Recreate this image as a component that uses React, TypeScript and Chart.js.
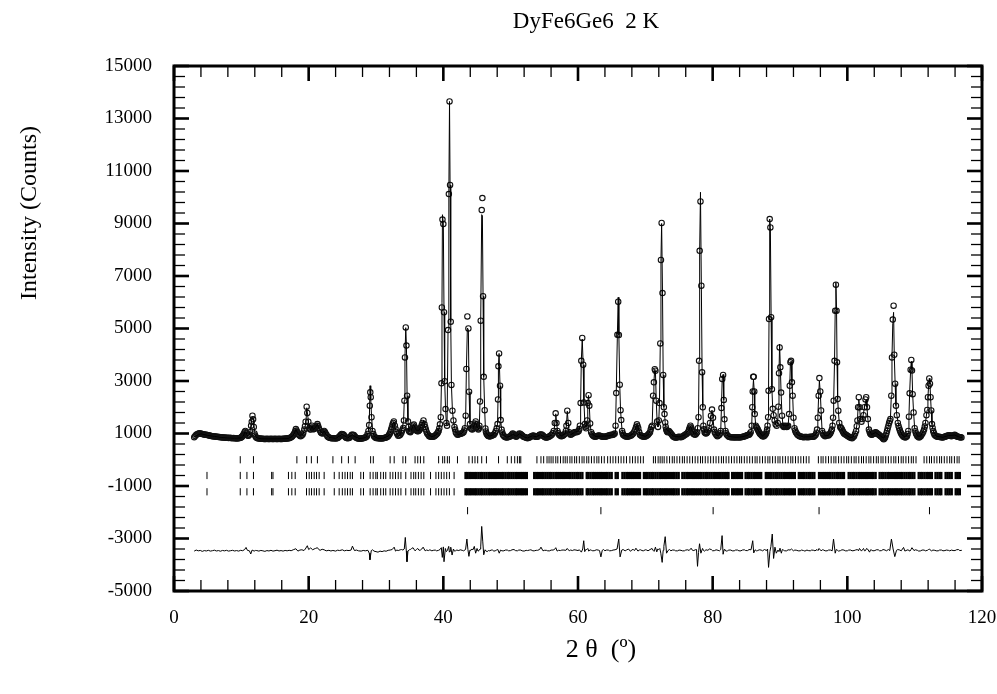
import { useEffect, useRef } from 'react';
import { Chart, registerables } from 'chart.js';

Chart.register(...registerables);

const FONT = "'Liberation Serif', 'Times New Roman', Times, serif";

const TITLE = 'DyFe6Ge6  2 K';
const X_TITLE = '2 θ  (º)';
const Y_TITLE = 'Intensity (Counts)';

// Observed intensities [2θ, counts]
const observed: [number, number][] = [
[3.0,860],[3.15,905],[3.3,950],[3.45,975],[3.6,990],[3.75,1005],[3.9,1000],[4.05,995],[4.2,980],[4.35,970],[4.5,960],[4.65,955],[4.8,950],[4.95,940],[5.1,930],[5.25,920],[5.4,910],[5.55,905],[5.7,900],[5.85,895],[6.0,890],[6.15,885],[6.3,880],[6.45,875],[6.6,870],[6.75,865],[6.9,860],[7.05,855],[7.2,850],[7.35,845],[7.5,850],[7.65,840],[7.8,840],[7.95,835],[8.1,830],[8.25,835],[8.4,830],[8.55,825],[8.7,820],[8.85,825],[9.0,820],[9.15,815],[9.3,810],[9.45,815],[9.6,820],[9.75,830],[9.9,840],[10.0,860],[10.1,880],[10.2,910],[10.3,950],[10.4,1000],[10.5,1060],[10.6,1100],[10.75,1020],[10.9,930],[11.0,915],[11.1,920],[11.2,960],[11.3,1050],[11.45,1300],[11.55,1450],[11.65,1680],[11.75,1540],[11.85,1250],[11.95,1000],[12.05,920],[12.15,870],[12.3,830],[12.45,820],[12.6,810],[12.75,805],[12.9,800],[13.05,800],[13.2,800],[13.35,795],[13.5,790],[13.65,795],[13.8,800],[13.95,795],[14.1,790],[14.25,795],[14.4,800],[14.55,795],[14.7,790],[14.85,795],[15.0,800],[15.15,795],[15.3,790],[15.45,795],[15.6,800],[15.75,795],[15.9,790],[16.05,795],[16.2,800],[16.35,800],[16.5,800],[16.65,805],[16.8,810],[16.95,815],[17.1,820],[17.25,840],[17.4,860],[17.55,890],[17.7,930],[17.8,970],[17.9,1020],[18.0,1090],[18.1,1170],[18.2,1110],[18.3,1060],[18.4,1000],[18.5,960],[18.65,920],[18.8,900],[18.95,920],[19.1,960],[19.2,1030],[19.35,1150],[19.45,1280],[19.55,1450],[19.7,2020],[19.8,1780],[19.95,1450],[20.1,1200],[20.2,1160],[20.3,1150],[20.4,1220],[20.5,1300],[20.6,1230],[20.7,1160],[20.8,1170],[20.9,1200],[21.0,1220],[21.1,1250],[21.2,1300],[21.3,1360],[21.4,1290],[21.5,1210],[21.65,1120],[21.8,1050],[21.9,1020],[22.05,1000],[22.15,1040],[22.3,1100],[22.4,1060],[22.5,1010],[22.65,950],[22.8,890],[22.95,860],[23.1,840],[23.25,830],[23.4,820],[23.55,815],[23.7,820],[23.85,815],[24.0,810],[24.15,815],[24.3,830],[24.45,860],[24.6,900],[24.75,940],[24.9,980],[25.05,970],[25.2,950],[25.35,900],[25.5,850],[25.65,830],[25.8,820],[25.95,830],[26.1,850],[26.25,900],[26.4,950],[26.55,955],[26.7,940],[26.85,900],[27.0,850],[27.15,825],[27.3,810],[27.45,805],[27.6,800],[27.75,805],[27.9,810],[28.05,820],[28.2,830],[28.35,845],[28.5,860],[28.65,900],[28.75,980],[28.88,1100],[28.98,1320],[29.08,2060],[29.15,2570],[29.22,2380],[29.33,1620],[29.48,1100],[29.6,980],[29.7,900],[29.85,860],[30.0,830],[30.15,825],[30.3,820],[30.45,815],[30.6,810],[30.75,815],[30.9,810],[31.05,820],[31.2,830],[31.35,840],[31.5,850],[31.65,870],[31.8,900],[31.95,950],[32.05,1000],[32.15,1070],[32.25,1150],[32.35,1240],[32.45,1340],[32.55,1400],[32.65,1460],[32.8,1300],[32.9,1180],[33.0,1060],[33.15,980],[33.3,910],[33.45,920],[33.6,950],[33.75,1020],[33.85,1100],[33.95,1150],[34.05,1210],[34.15,1500],[34.22,2250],[34.3,3900],[34.42,5040],[34.52,4350],[34.62,2440],[34.75,1460],[34.82,1250],[34.9,1100],[35.0,1070],[35.1,1050],[35.2,1100],[35.3,1150],[35.4,1220],[35.5,1300],[35.62,1340],[35.75,1250],[35.82,1200],[35.9,1150],[36.0,1120],[36.1,1100],[36.2,1090],[36.3,1100],[36.4,1120],[36.5,1150],[36.6,1200],[36.7,1250],[36.8,1320],[36.9,1400],[37.05,1500],[37.2,1350],[37.3,1250],[37.4,1150],[37.5,1070],[37.6,1000],[37.75,950],[37.9,900],[38.05,890],[38.2,880],[38.35,875],[38.5,880],[38.65,900],[38.8,920],[38.95,960],[39.1,1000],[39.2,1050],[39.3,1100],[39.4,1200],[39.5,1350],[39.62,1620],[39.72,2910],[39.78,5800],[39.87,9150],[40.0,8980],[40.1,5620],[40.2,2990],[40.33,1930],[40.45,1400],[40.55,1300],[40.7,4940],[40.82,10120],[40.92,13650],[41.0,10470],[41.1,5260],[41.2,2850],[41.35,1870],[41.5,1500],[41.65,1250],[41.75,1150],[41.85,1050],[41.95,1000],[42.1,950],[42.25,960],[42.4,980],[42.55,990],[42.7,1000],[42.85,1020],[43.0,1050],[43.1,1110],[43.2,1200],[43.32,1680],[43.42,3460],[43.57,5460],[43.72,5000],[43.82,2590],[43.96,1360],[44.1,1200],[44.2,1170],[44.3,1150],[44.42,1220],[44.55,1300],[44.68,1380],[44.8,1460],[44.9,1350],[45.0,1250],[45.1,1190],[45.2,1150],[45.28,1200],[45.35,1300],[45.45,2220],[45.55,5300],[45.7,9510],[45.8,9970],[45.9,6230],[46.0,3160],[46.14,1890],[46.25,1190],[46.32,1080],[46.4,1000],[46.5,960],[46.6,920],[46.7,905],[46.8,900],[46.9,895],[47.0,900],[47.1,910],[47.2,920],[47.35,935],[47.5,950],[47.65,1010],[47.8,1100],[47.93,1200],[48.05,1360],[48.12,2300],[48.18,3560],[48.28,4050],[48.42,2820],[48.52,1510],[48.65,1150],[48.75,1040],[48.85,950],[48.97,910],[49.1,880],[49.25,860],[49.4,850],[49.55,860],[49.7,870],[49.85,885],[50.0,900],[50.15,950],[50.3,1000],[50.4,980],[50.5,950],[50.65,910],[50.8,880],[50.9,895],[51.0,920],[51.15,960],[51.3,1000],[51.45,980],[51.6,950],[51.75,910],[51.9,880],[52.05,865],[52.2,850],[52.35,835],[52.5,820],[52.65,835],[52.8,850],[52.95,875],[53.1,900],[53.25,915],[53.4,920],[53.55,900],[53.7,880],[53.85,875],[54.0,880],[54.15,915],[54.3,950],[54.45,965],[54.6,960],[54.75,930],[54.9,900],[55.05,870],[55.2,850],[55.35,850],[55.5,860],[55.65,880],[55.8,900],[55.95,925],[56.1,950],[56.25,1010],[56.4,1100],[56.55,1400],[56.68,1770],[56.8,1400],[56.95,1100],[57.08,1010],[57.2,950],[57.35,920],[57.5,900],[57.65,905],[57.8,920],[57.95,960],[58.1,1000],[58.2,1100],[58.28,1300],[58.41,1870],[58.55,1400],[58.7,1050],[58.8,990],[58.9,950],[59.05,970],[59.2,1000],[59.35,1030],[59.5,1050],[59.65,1060],[59.8,1050],[59.95,1070],[60.1,1100],[60.2,1170],[60.28,1300],[60.39,2160],[60.49,3770],[60.63,4640],[60.77,3620],[60.88,2180],[61.03,1360],[61.12,1260],[61.2,1200],[61.28,1300],[61.35,1500],[61.45,2160],[61.57,2460],[61.68,2060],[61.8,1380],[61.95,1050],[62.08,970],[62.2,920],[62.35,900],[62.5,880],[62.65,890],[62.8,900],[62.95,910],[63.1,920],[63.25,910],[63.4,900],[63.55,890],[63.7,880],[63.85,875],[64.0,880],[64.15,890],[64.3,900],[64.45,910],[64.6,920],[64.75,935],[64.9,950],[65.05,945],[65.2,950],[65.32,970],[65.45,1000],[65.58,1300],[65.68,2540],[65.85,4760],[65.97,6020],[66.07,4750],[66.2,2860],[66.32,1890],[66.42,1510],[66.55,1100],[66.62,1010],[66.7,950],[66.85,920],[67.0,900],[67.15,890],[67.3,880],[67.45,890],[67.6,900],[67.75,910],[67.9,920],[68.05,960],[68.2,1000],[68.35,1070],[68.5,1150],[68.62,1250],[68.75,1350],[68.85,1280],[68.95,1200],[69.08,1060],[69.2,950],[69.35,920],[69.5,900],[69.65,890],[69.8,880],[69.95,890],[70.1,900],[70.25,925],[70.4,950],[70.55,1000],[70.7,1050],[70.8,1150],[70.9,1250],[71.02,1300],[71.15,2440],[71.27,2950],[71.4,3450],[71.5,3390],[71.62,2250],[71.75,1460],[71.88,1250],[72.0,1500],[72.1,2160],[72.22,4430],[72.32,7610],[72.42,9020],[72.55,6350],[72.65,3230],[72.75,2000],[72.85,1740],[72.95,1420],[73.02,1260],[73.1,1150],[73.2,1090],[73.3,1050],[73.4,1080],[73.5,1100],[73.65,1050],[73.8,1000],[73.95,950],[74.1,900],[74.25,870],[74.4,850],[74.55,845],[74.7,850],[74.85,865],[75.0,880],[75.15,870],[75.3,860],[75.45,880],[75.6,900],[75.75,925],[75.9,950],[76.05,975],[76.2,1000],[76.35,1060],[76.5,1150],[76.6,1230],[76.7,1300],[76.8,1230],[76.9,1150],[77.0,1070],[77.1,1000],[77.25,970],[77.4,950],[77.55,990],[77.7,1050],[77.8,1200],[77.9,1620],[77.98,3770],[78.07,7960],[78.19,9840],[78.32,6630],[78.43,3330],[78.53,2000],[78.62,1300],[78.7,1160],[78.8,1050],[78.9,1020],[79.0,1000],[79.1,1020],[79.2,1050],[79.32,1110],[79.45,1200],[79.6,1400],[79.75,1680],[79.9,1910],[80.05,1600],[80.2,1150],[80.3,1060],[80.4,1000],[80.55,940],[80.7,900],[80.85,920],[81.0,950],[81.1,1010],[81.2,1100],[81.3,1970],[81.42,3080],[81.55,3230],[81.65,2280],[81.75,1540],[81.9,1100],[82.0,1010],[82.1,950],[82.25,910],[82.4,880],[82.55,870],[82.7,860],[82.85,855],[83.0,860],[83.15,855],[83.3,850],[83.45,855],[83.6,860],[83.75,855],[83.9,850],[84.05,855],[84.2,860],[84.35,870],[84.5,880],[84.65,890],[84.8,900],[84.95,915],[85.1,930],[85.25,940],[85.4,950],[85.52,990],[85.65,1050],[85.8,1300],[85.88,2000],[85.95,2600],[86.02,3160],[86.1,3160],[86.18,2600],[86.25,1740],[86.4,1300],[86.5,1240],[86.6,1200],[86.7,1150],[86.8,1100],[86.9,1050],[87.0,1000],[87.1,970],[87.2,950],[87.3,925],[87.4,900],[87.5,895],[87.6,900],[87.7,920],[87.8,950],[87.9,995],[88.0,1050],[88.08,1150],[88.15,1300],[88.23,1620],[88.3,2630],[88.37,5360],[88.47,9170],[88.57,8850],[88.68,5430],[88.8,2690],[88.92,1940],[89.05,1700],[89.2,1500],[89.35,1350],[89.5,1300],[89.66,1400],[89.76,2020],[89.85,3300],[89.94,4280],[90.05,3520],[90.16,2560],[90.3,1680],[90.45,1300],[90.52,1270],[90.6,1250],[90.7,1280],[90.8,1300],[90.9,1270],[91.0,1250],[91.1,1270],[91.2,1300],[91.35,1740],[91.45,2820],[91.55,3710],[91.64,3770],[91.77,2950],[91.88,2440],[92.0,1600],[92.15,1200],[92.25,1110],[92.35,1050],[92.48,1000],[92.6,950],[92.75,920],[92.9,900],[93.05,890],[93.2,880],[93.35,870],[93.5,860],[93.65,865],[93.8,870],[93.95,865],[94.1,860],[94.25,865],[94.4,870],[94.55,875],[94.7,880],[94.85,880],[95.0,880],[95.15,910],[95.3,950],[95.4,1030],[95.5,1150],[95.62,1600],[95.74,2440],[95.85,3110],[95.98,2600],[96.1,1880],[96.25,1100],[96.35,1010],[96.45,950],[96.58,920],[96.7,900],[96.82,920],[96.95,950],[97.08,935],[97.2,920],[97.32,960],[97.45,1000],[97.58,1070],[97.7,1150],[97.8,1300],[97.88,1600],[97.97,2250],[98.1,3770],[98.2,5680],[98.3,6670],[98.4,5680],[98.47,3710],[98.56,2310],[98.66,1870],[98.8,1400],[98.95,1250],[99.02,1220],[99.1,1200],[99.2,1150],[99.3,1100],[99.4,1050],[99.5,1000],[99.65,975],[99.8,950],[99.95,925],[100.1,900],[100.25,875],[100.4,850],[100.55,835],[100.7,820],[100.85,860],[101.0,900],[101.15,990],[101.3,1100],[101.4,1280],[101.5,1500],[101.6,2000],[101.7,2380],[101.82,2000],[101.95,1550],[102.1,1450],[102.25,1550],[102.4,1700],[102.55,2000],[102.7,2300],[102.8,2380],[102.92,2000],[103.05,1550],[103.2,1150],[103.3,1070],[103.4,1000],[103.5,970],[103.6,950],[103.7,965],[103.8,980],[103.9,990],[104.0,1000],[104.1,1030],[104.2,1050],[104.32,1030],[104.45,1000],[104.58,975],[104.7,950],[104.82,925],[104.95,900],[105.08,875],[105.2,850],[105.3,810],[105.4,780],[105.5,810],[105.6,850],[105.7,920],[105.8,1000],[105.9,1100],[106.0,1200],[106.1,1300],[106.2,1400],[106.3,1480],[106.4,1550],[106.53,2440],[106.63,3900],[106.75,5340],[106.87,5870],[106.97,4000],[107.1,2900],[107.22,2060],[107.35,1700],[107.5,1400],[107.6,1290],[107.7,1200],[107.8,1120],[107.9,1050],[108.0,1000],[108.1,950],[108.22,910],[108.35,880],[108.48,865],[108.6,850],[108.72,870],[108.85,900],[108.95,980],[109.05,1100],[109.15,1640],[109.25,2530],[109.4,3430],[109.5,3800],[109.6,3400],[109.7,2500],[109.84,1800],[110.0,1200],[110.1,1090],[110.2,1000],[110.3,950],[110.4,900],[110.52,875],[110.65,850],[110.78,875],[110.9,900],[111.02,950],[111.15,1000],[111.28,1070],[111.4,1150],[111.5,1270],[111.6,1400],[111.75,1700],[111.87,1900],[111.97,2380],[112.07,2820],[112.17,3100],[112.27,2900],[112.36,2380],[112.46,1880],[112.57,1360],[112.66,1220],[112.75,1100],[112.85,1020],[112.95,950],[113.08,920],[113.2,900],[113.32,890],[113.45,880],[113.58,875],[113.7,870],[113.82,865],[113.95,860],[114.08,855],[114.2,850],[114.32,865],[114.45,880],[114.58,890],[114.7,900],[114.82,910],[114.95,920],[115.08,925],[115.2,930],[115.32,915],[115.45,900],[115.58,910],[115.7,920],[115.82,935],[115.95,950],[116.08,925],[116.2,900],[116.32,890],[116.45,880],[116.58,870],[116.7,860],[116.82,855],[116.95,850]
];

// Calculated profile [2θ, counts]
const calculated: [number, number][] = [
[3.0, 880],[4.0, 990],[5.0, 930],[6.0, 890],[7.0, 850],[8.0, 830],[9.0, 820],[10.0, 830],[10.3, 900],[10.55, 1080],[10.8, 980],[11.0, 900],[11.2, 950],[11.45, 1350],[11.62, 1640],[11.75, 1600],[11.9, 1250],[12.05, 950],[12.3, 830],[13.0, 800],[14.0, 795],[15.0, 795],[16.0, 800],[17.0, 810],[17.6, 900],[17.9, 1020],[18.1, 1160],[18.3, 1050],[18.6, 930],[19.1, 950],[19.4, 1150],[19.6, 1450],[19.72, 1980],[19.9, 1600],[20.1, 1200],[20.3, 1150],[20.5, 1290],[20.7, 1150],[21.0, 1230],[21.3, 1350],[21.6, 1150],[22.0, 1000],[22.3, 1090],[22.6, 960],[23.0, 850],[24.0, 815],[24.6, 900],[24.95, 970],[25.3, 920],[25.8, 830],[26.45, 950],[26.9, 880],[27.5, 805],[28.2, 830],[28.6, 880],[28.85, 1050],[29.0, 1450],[29.12, 2820],[29.22, 2300],[29.35, 1600],[29.5, 1100],[29.7, 900],[30.2, 820],[31.0, 815],[31.8, 900],[32.1, 1000],[32.3, 1150],[32.5, 1340],[32.65, 1450],[32.8, 1300],[33.0, 1050],[33.3, 920],[33.6, 950],[33.9, 1200],[34.1, 1500],[34.2, 2250],[34.3, 3900],[34.42, 5030],[34.52, 4350],[34.62, 2440],[34.75, 1460],[34.9, 1100],[35.2, 1100],[35.6, 1330],[36.0, 1120],[36.4, 1120],[36.8, 1350],[37.05, 1490],[37.3, 1250],[37.7, 960],[38.3, 880],[38.8, 920],[39.2, 1050],[39.5, 1350],[39.62, 1650],[39.72, 2950],[39.8, 6000],[39.87, 9335],[40.0, 8980],[40.1, 5620],[40.2, 2990],[40.33, 1930],[40.45, 1400],[40.55, 1300],[40.7, 4940],[40.82, 10120],[40.92, 13650],[41.0, 10470],[41.1, 5260],[41.2, 2850],[41.35, 1870],[41.5, 1500],[41.65, 1250],[41.85, 1050],[42.2, 960],[42.8, 1010],[43.2, 1200],[43.32, 1700],[43.42, 3400],[43.57, 5020],[43.72, 4950],[43.82, 2590],[43.96, 1360],[44.1, 1200],[44.3, 1150],[44.55, 1300],[44.8, 1450],[45.0, 1250],[45.2, 1150],[45.35, 1300],[45.45, 2220],[45.55, 5300],[45.7, 9336],[45.8, 9300],[45.9, 6230],[46.0, 3160],[46.14, 1890],[46.25, 1190],[46.4, 1000],[46.8, 900],[47.3, 930],[47.8, 1100],[48.05, 1360],[48.12, 2300],[48.18, 3560],[48.28, 4050],[48.42, 2820],[48.52, 1510],[48.65, 1150],[48.85, 950],[49.4, 860],[50.0, 900],[50.3, 990],[50.8, 890],[51.3, 990],[51.9, 880],[52.5, 830],[53.2, 910],[53.8, 880],[54.4, 950],[55.1, 860],[55.8, 900],[56.2, 970],[56.45, 1150],[56.6, 1450],[56.7, 1750],[56.82, 1380],[57.0, 1050],[57.5, 900],[58.1, 1000],[58.28, 1300],[58.41, 1850],[58.55, 1400],[58.7, 1050],[58.95, 960],[59.5, 1050],[60.1, 1100],[60.3, 1300],[60.39, 2160],[60.49, 3770],[60.63, 4600],[60.77, 3620],[60.88, 2180],[61.03, 1360],[61.2, 1220],[61.35, 1500],[61.45, 2160],[61.57, 2450],[61.68, 2060],[61.8, 1380],[61.95, 1050],[62.5, 890],[63.5, 900],[64.5, 910],[65.2, 950],[65.5, 1050],[65.58, 1300],[65.68, 2540],[65.85, 4760],[65.97, 6190],[66.07, 4750],[66.2, 2860],[66.32, 1890],[66.42, 1510],[66.55, 1100],[66.8, 940],[67.5, 890],[68.2, 1000],[68.5, 1150],[68.75, 1340],[68.95, 1200],[69.2, 960],[70.0, 890],[70.5, 980],[70.9, 1250],[71.02, 1350],[71.15, 2440],[71.27, 2950],[71.4, 3450],[71.5, 3390],[71.62, 2250],[71.75, 1460],[71.88, 1250],[72.0, 1500],[72.1, 2160],[72.22, 4430],[72.32, 7610],[72.42, 9000],[72.55, 6350],[72.65, 3230],[72.75, 2000],[72.85, 1740],[72.95, 1420],[73.1, 1150],[73.5, 1090],[74.1, 910],[75.0, 870],[75.9, 950],[76.5, 1150],[76.7, 1290],[76.9, 1150],[77.3, 960],[77.7, 1050],[77.9, 1620],[77.98, 3770],[78.07, 7960],[78.19, 10190],[78.32, 6630],[78.43, 3330],[78.53, 2000],[78.62, 1300],[78.8, 1050],[79.2, 1050],[79.45, 1200],[79.6, 1400],[79.75, 1680],[79.9, 1890],[80.05, 1600],[80.2, 1150],[80.6, 920],[81.0, 950],[81.2, 1100],[81.3, 1970],[81.42, 3080],[81.55, 3250],[81.65, 2280],[81.75, 1540],[81.9, 1100],[82.3, 890],[83.5, 855],[84.5, 880],[85.3, 940],[85.7, 1050],[85.8, 1300],[85.88, 2000],[85.95, 2600],[86.06, 3050],[86.18, 2600],[86.25, 1740],[86.4, 1300],[86.8, 1100],[87.4, 900],[88.0, 1050],[88.15, 1300],[88.23, 1620],[88.3, 2630],[88.37, 5360],[88.47, 9171],[88.57, 8850],[88.68, 5430],[88.8, 2690],[88.92, 1940],[89.05, 1700],[89.35, 1350],[89.5, 1300],[89.66, 1400],[89.76, 2020],[89.85, 3300],[89.94, 4410],[90.05, 3520],[90.16, 2560],[90.3, 1680],[90.45, 1300],[90.8, 1290],[91.2, 1300],[91.35, 1740],[91.45, 2820],[91.55, 3710],[91.64, 3750],[91.77, 2950],[91.88, 2440],[92.0, 1600],[92.15, 1200],[92.6, 950],[93.5, 865],[94.7, 880],[95.3, 950],[95.5, 1150],[95.62, 1600],[95.74, 2440],[95.85, 3000],[95.98, 2600],[96.1, 1880],[96.25, 1100],[96.7, 910],[97.2, 930],[97.7, 1150],[97.9, 1600],[97.97, 2250],[98.1, 3770],[98.2, 5680],[98.3, 6760],[98.4, 5680],[98.47, 3710],[98.56, 2310],[98.66, 1870],[98.8, 1400],[99.1, 1200],[99.5, 1000],[100.4, 850],[100.8, 850],[101.3, 1100],[101.5, 1500],[101.6, 2000],[101.7, 2300],[101.82, 2000],[101.95, 1550],[102.25, 1550],[102.55, 2000],[102.8, 2300],[102.92, 2000],[103.05, 1550],[103.2, 1150],[103.6, 960],[104.2, 1040],[104.95, 900],[105.4, 820],[105.8, 1000],[106.2, 1400],[106.4, 1550],[106.53, 2440],[106.63, 3900],[106.75, 5200],[106.87, 5615],[106.97, 4000],[107.1, 2900],[107.22, 2060],[107.35, 1700],[107.7, 1200],[108.1, 950],[108.6, 860],[109.1, 1050],[109.15, 1640],[109.25, 2530],[109.4, 3430],[109.5, 3750],[109.6, 3400],[109.7, 2500],[109.84, 1800],[110.0, 1200],[110.4, 900],[110.9, 900],[111.4, 1150],[111.6, 1400],[111.8, 1800],[111.87, 1900],[111.97, 2380],[112.07, 2820],[112.17, 3100],[112.27, 2900],[112.36, 2380],[112.46, 1880],[112.57, 1360],[112.75, 1100],[113.2, 900],[114.2, 855],[115.0, 920],[115.95, 940],[116.5, 880],[117.0, 845]
];

// Difference curve (obs - calc, offset) [2θ, counts]
const difference: [number, number][] = [
[3.0,-3480],[3.3,-3440],[3.6,-3470],[3.9,-3455],[4.2,-3490],[4.5,-3460],[4.8,-3475],[5.1,-3450],[5.4,-3480],[5.7,-3465],[6.0,-3445],[6.3,-3475],[6.6,-3460],[6.9,-3485],[7.2,-3455],[7.5,-3470],[7.8,-3450],[8.1,-3480],[8.4,-3465],[8.7,-3450],[9.0,-3475],[9.3,-3460],[9.6,-3480],[9.9,-3450],[10.2,-3465],[10.5,-3420],[10.7,-3340],[10.9,-3450],[11.2,-3470],[11.4,-3590],[11.6,-3440],[11.9,-3480],[12.1,-3455],[12.3,-3460],[12.6,-3480],[12.9,-3455],[13.2,-3470],[13.5,-3490],[13.8,-3460],[14.1,-3475],[14.4,-3450],[14.7,-3480],[15.0,-3465],[15.3,-3445],[15.6,-3475],[15.9,-3460],[16.2,-3480],[16.5,-3455],[16.8,-3470],[17.1,-3450],[17.4,-3465],[17.7,-3430],[18.1,-3390],[18.4,-3480],[18.7,-3440],[19.0,-3430],[19.3,-3460],[19.5,-3400],[19.8,-3275],[20.0,-3420],[20.3,-3360],[20.6,-3430],[20.8,-3400],[21.0,-3380],[21.3,-3350],[21.5,-3420],[21.7,-3450],[22.0,-3410],[22.3,-3430],[22.6,-3470],[23.0,-3450],[23.3,-3475],[23.6,-3455],[24.0,-3480],[24.3,-3445],[24.6,-3460],[25.0,-3430],[25.3,-3470],[25.6,-3450],[26.0,-3460],[26.3,-3440],[26.5,-3290],[26.8,-3460],[27.1,-3440],[27.4,-3470],[27.8,-3480],[28.1,-3455],[28.4,-3470],[28.8,-3450],[29.0,-3560],[29.1,-3810],[29.3,-3460],[29.5,-3430],[29.7,-3480],[30.0,-3500],[30.3,-3520],[30.6,-3480],[30.9,-3500],[31.2,-3470],[31.5,-3485],[31.8,-3450],[32.1,-3440],[32.4,-3420],[32.7,-3330],[32.9,-3480],[33.1,-3440],[33.3,-3460],[33.6,-3430],[33.8,-3420],[34.0,-3440],[34.2,-3400],[34.35,-2960],[34.5,-3470],[34.6,-3885],[34.75,-3480],[34.95,-3430],[35.1,-3420],[35.3,-3380],[35.5,-3350],[35.7,-3430],[35.8,-3470],[36.0,-3420],[36.2,-3380],[36.4,-3450],[36.6,-3440],[36.8,-3400],[37.0,-3330],[37.3,-3470],[37.5,-3440],[37.8,-3460],[38.0,-3430],[38.3,-3470],[38.5,-3450],[38.8,-3440],[39.0,-3470],[39.3,-3450],[39.5,-3420],[39.7,-3350],[39.85,-3720],[40.0,-3320],[40.1,-3885],[40.3,-3380],[40.45,-3500],[40.6,-3460],[40.8,-3300],[40.9,-3520],[41.0,-3480],[41.1,-3330],[41.3,-3630],[41.5,-3400],[41.65,-3480],[41.8,-3470],[42.0,-3440],[42.3,-3460],[42.5,-3430],[42.8,-3450],[43.0,-3470],[43.3,-3420],[43.5,-3020],[43.65,-3420],[43.8,-3680],[43.95,-3440],[44.1,-3450],[44.25,-3400],[44.4,-3430],[44.6,-3300],[44.8,-3560],[45.0,-3380],[45.15,-3480],[45.3,-3460],[45.45,-3400],[45.55,-3320],[45.7,-2540],[45.85,-3100],[46.0,-3620],[46.2,-3430],[46.35,-3480],[46.5,-3500],[46.7,-3460],[46.9,-3470],[47.1,-3440],[47.3,-3440],[47.5,-3480],[47.7,-3470],[47.9,-3440],[48.1,-3420],[48.3,-3560],[48.5,-3440],[48.7,-3470],[49.0,-3470],[49.2,-3440],[49.5,-3440],[49.7,-3470],[50.0,-3460],[50.2,-3430],[50.5,-3420],[50.7,-3460],[51.0,-3470],[51.2,-3440],[51.5,-3440],[51.7,-3470],[52.0,-3480],[52.3,-3450],[52.5,-3460],[52.8,-3440],[53.0,-3430],[53.3,-3470],[53.5,-3470],[53.8,-3450],[54.0,-3450],[54.3,-3420],[54.5,-3330],[54.8,-3470],[55.0,-3450],[55.3,-3450],[55.5,-3470],[55.8,-3470],[56.0,-3440],[56.3,-3440],[56.5,-3420],[56.7,-3350],[56.9,-3480],[57.1,-3450],[57.4,-3460],[57.6,-3440],[57.9,-3440],[58.2,-3450],[58.4,-3380],[58.7,-3470],[58.9,-3440],[59.2,-3460],[59.4,-3430],[59.7,-3440],[60.0,-3460],[60.2,-3430],[60.5,-3520],[60.7,-3400],[60.85,-3085],[61.0,-3500],[61.15,-3420],[61.3,-3420],[61.45,-3380],[61.6,-3480],[61.8,-3430],[62.0,-3450],[62.2,-3470],[62.5,-3460],[62.7,-3430],[63.0,-3440],[63.2,-3460],[63.4,-3700],[63.6,-3450],[63.8,-3420],[64.0,-3470],[64.2,-3440],[64.5,-3440],[64.7,-3470],[65.0,-3460],[65.2,-3440],[65.5,-3430],[65.8,-3400],[66.05,-3020],[66.25,-3700],[66.5,-3440],[66.7,-3420],[67.0,-3470],[67.2,-3440],[67.5,-3400],[67.8,-3490],[68.0,-3430],[68.2,-3420],[68.4,-3460],[68.6,-3370],[68.9,-3480],[69.1,-3440],[69.3,-3430],[69.5,-3460],[69.7,-3470],[70.0,-3430],[70.2,-3440],[70.4,-3470],[70.7,-3420],[71.0,-3380],[71.15,-3450],[71.3,-3490],[71.5,-3330],[71.7,-3510],[71.85,-3400],[72.0,-3420],[72.15,-3380],[72.3,-3560],[72.5,-3910],[72.65,-3450],[72.75,-3300],[72.95,-2930],[73.15,-3560],[73.4,-3450],[73.6,-3420],[73.8,-3470],[74.0,-3440],[74.3,-3440],[74.5,-3470],[74.8,-3470],[75.0,-3440],[75.3,-3450],[75.5,-3470],[75.8,-3470],[76.0,-3440],[76.3,-3430],[76.5,-3460],[76.8,-3370],[77.0,-3450],[77.2,-3460],[77.4,-3430],[77.6,-3420],[77.75,-4060],[77.9,-3530],[78.05,-3200],[78.25,-3560],[78.5,-3380],[78.65,-3460],[78.8,-3480],[79.0,-3430],[79.3,-3450],[79.5,-3400],[79.8,-3420],[80.0,-3470],[80.3,-3460],[80.5,-3430],[80.8,-3450],[81.0,-3470],[81.2,-3420],[81.4,-2890],[81.55,-3600],[81.7,-3420],[81.8,-3440],[82.0,-3480],[82.2,-3470],[82.4,-3440],[82.7,-3440],[82.9,-3470],[83.2,-3470],[83.4,-3440],[83.7,-3440],[83.9,-3470],[84.2,-3470],[84.4,-3440],[84.7,-3430],[84.9,-3460],[85.2,-3460],[85.4,-3420],[85.7,-3430],[85.95,-3085],[86.1,-3550],[86.3,-3430],[86.5,-3470],[86.7,-3460],[86.9,-3430],[87.2,-3440],[87.4,-3470],[87.7,-3420],[88.0,-3460],[88.15,-3400],[88.3,-4100],[88.5,-3500],[88.65,-3300],[88.85,-2830],[89.05,-3760],[89.25,-3330],[89.45,-3560],[89.7,-3440],[89.85,-3500],[90.0,-3370],[90.2,-3560],[90.35,-3420],[90.5,-3440],[90.7,-3470],[91.0,-3470],[91.2,-3430],[91.5,-3440],[91.7,-3400],[92.0,-3470],[92.2,-3440],[92.5,-3450],[92.7,-3470],[93.0,-3470],[93.2,-3440],[93.5,-3460],[93.7,-3480],[94.0,-3440],[94.2,-3460],[94.5,-3470],[94.7,-3440],[95.0,-3450],[95.2,-3470],[95.5,-3420],[95.65,-3460],[95.8,-3380],[96.1,-3470],[96.3,-3430],[96.5,-3440],[96.7,-3470],[97.0,-3470],[97.2,-3440],[97.5,-3440],[97.75,-3470],[97.95,-3020],[98.2,-3560],[98.35,-3420],[98.5,-3440],[98.7,-3480],[99.0,-3460],[99.2,-3430],[99.5,-3440],[99.7,-3470],[100.0,-3470],[100.2,-3440],[100.5,-3440],[100.7,-3470],[101.0,-3460],[101.2,-3440],[101.5,-3420],[101.65,-3470],[101.8,-3380],[102.1,-3480],[102.25,-3420],[102.4,-3380],[102.55,-3470],[102.7,-3460],[102.85,-3380],[103.0,-3400],[103.3,-3520],[103.45,-3430],[103.6,-3440],[103.8,-3470],[104.1,-3460],[104.3,-3430],[104.6,-3430],[104.8,-3470],[105.1,-3460],[105.3,-3420],[105.6,-3440],[105.8,-3470],[106.1,-3420],[106.3,-3460],[106.55,-3020],[106.8,-3400],[107.05,-3690],[107.3,-3450],[107.5,-3420],[107.8,-3440],[108.0,-3470],[108.35,-3340],[108.55,-3480],[108.7,-3460],[109.0,-3430],[109.3,-3480],[109.45,-3420],[109.6,-3350],[109.9,-3460],[110.1,-3430],[110.4,-3450],[110.6,-3480],[110.9,-3470],[111.1,-3440],[111.4,-3440],[111.6,-3470],[111.9,-3450],[112.05,-3420],[112.2,-3400],[112.5,-3480],[112.7,-3440],[113.0,-3450],[113.2,-3470],[113.5,-3470],[113.7,-3440],[114.0,-3440],[114.2,-3470],[114.5,-3460],[114.7,-3440],[115.0,-3450],[115.2,-3470],[115.5,-3440],[115.7,-3460],[116.0,-3460],[116.2,-3430],[116.5,-3420],[116.7,-3460],[117.0,-3450]
];

// Bragg reflection positions (2θ)
const braggNuclear: number[] = [
9.84, 11.8, 18.25, 19.7, 20.4, 21.3, 23.6, 24.9, 25.9, 26.9, 29.2, 29.6, 32.1, 32.7, 34.0, 34.4, 35.8, 36.2, 36.6, 37.1, 39.3, 39.9, 40.2, 40.6, 40.9, 42.1, 43.8, 44.3, 44.7, 45.1, 45.7, 46.4, 48.2, 49.5, 50.1, 50.6, 51.0, 51.3, 51.5, 53.9, 54.5, 54.9, 55.4, 55.7, 56.0, 56.3, 56.7, 57.0, 57.4, 57.8, 58.1, 58.4, 58.8, 59.1, 59.5, 59.8, 60.2, 60.6, 60.9, 61.3, 61.6, 62.0, 62.4, 62.8, 63.1, 63.5, 63.9, 64.4, 64.8, 65.2, 65.6, 66.0, 66.4, 66.8, 67.2, 67.7, 68.1, 68.5, 68.9, 69.3, 69.7, 71.2, 71.5, 71.9, 72.2, 72.5, 72.8, 73.2, 73.6, 74.0, 74.3, 74.7, 75.1, 75.5, 75.8, 76.2, 76.6, 77.0, 77.4, 77.8, 78.2, 78.5, 78.9, 79.3, 79.7, 80.1, 80.5, 80.9, 81.3, 81.6, 82.0, 82.4, 82.8, 83.2, 83.6, 84.0, 84.3, 84.7, 85.1, 85.5, 85.9, 86.3, 86.6, 87.0, 87.4, 87.8, 88.2, 88.5, 88.9, 89.3, 89.7, 90.0, 90.4, 90.8, 91.2, 91.6, 91.9, 92.3, 92.7, 93.1, 93.5, 93.9, 94.3, 95.7, 96.1, 96.4, 96.8, 97.2, 97.6, 98.0, 98.3, 98.7, 99.1, 99.5, 99.9, 100.2, 100.6, 101.0, 101.3, 101.7, 102.1, 102.4, 102.8, 103.2, 103.5, 103.9, 104.3, 104.6, 105.0, 105.3, 105.7, 106.1, 106.5, 106.9, 107.2, 107.6, 108.0, 108.3, 108.7, 109.1, 109.5, 109.8, 110.2, 111.4, 111.8, 112.2, 112.5, 112.9, 113.3, 113.7, 114.0, 114.4, 114.8, 115.2, 115.5, 115.9, 116.3, 116.6
];

const braggMagneticLow: number[] = [
4.9, 9.84, 10.83, 11.8, 14.5, 14.7, 17.0, 17.5, 18.0, 19.68, 20.08, 20.43, 20.82, 21.17, 21.56, 22.3, 23.8, 24.53, 25.0, 25.4, 25.77, 26.17, 26.5, 27.74, 28.14, 29.13, 29.57, 29.97, 30.2, 30.7, 31.1, 31.45, 32.1, 32.5, 32.9, 33.3, 33.7, 34.42, 35.2, 35.6, 35.9, 36.3, 36.7, 37.1, 38.1, 38.9, 39.3, 39.7, 40.1, 40.5, 40.9, 41.6
];

const braggMagneticHigh: number[] = [
43.3, 43.55, 43.85, 44.1, 44.4, 44.7, 44.95, 45.25, 45.55, 45.8, 46.1, 46.4, 46.7, 46.95, 47.25, 47.55, 47.8, 48.1, 48.4, 48.7, 48.95, 49.25, 49.55, 49.8, 50.1, 50.4, 50.7, 50.95, 51.25, 51.55, 51.8, 52.1, 52.4,
53.5, 53.8, 54.05, 54.35, 54.65, 54.9, 55.2, 55.5, 55.8, 56.05, 56.35, 56.65, 56.9, 57.2, 57.5, 57.8, 58.05, 58.35, 58.65, 58.9, 59.2, 59.5, 59.8, 60.05, 60.35, 60.65, 61.3, 61.55, 61.85, 62.15, 62.4, 62.7, 63.0, 63.3, 63.55, 63.85, 64.15, 64.4, 64.7, 65.0, 65.6, 65.9, 66.6, 66.9, 67.2, 67.45, 67.75, 68.05, 68.3, 68.6, 68.9, 69.2, 69.8, 70.1, 70.35, 70.65, 70.95, 71.2, 71.5, 71.8, 72.1, 72.35, 72.65, 72.95, 73.2, 73.5, 73.8, 74.1, 74.35, 74.65, 74.95, 75.5, 75.8, 76.1, 76.35, 76.65, 76.95, 77.2, 77.5, 77.8, 78.1, 78.35, 78.65, 78.95, 79.2, 79.5, 79.8, 80.1, 80.35, 80.65, 80.95, 81.2, 81.5, 81.8, 82.1, 82.35, 82.9, 83.2, 83.5, 83.75, 84.05, 84.35, 84.9, 85.2, 85.45, 85.75, 86.05, 86.3, 86.6, 86.9, 87.2, 87.9, 88.2, 88.5, 88.75, 89.05, 89.35, 89.6, 89.9, 90.2, 90.5, 90.75, 91.05, 91.35, 91.6, 91.9, 92.2, 92.8, 93.1, 93.4, 93.65, 93.95, 94.25, 94.5, 94.8, 95.1, 95.8, 96.1, 96.4, 96.65, 96.95, 97.25, 97.5, 97.8, 98.1, 98.4, 98.65, 98.95, 99.25, 99.5, 100.2, 100.5, 100.8, 101.05, 101.35, 101.65, 101.9, 102.2, 102.5, 102.8, 103.05, 103.35, 103.65, 103.9, 104.2, 104.8, 105.1, 105.35, 105.65, 105.95, 106.2, 106.5, 106.8, 107.1, 107.35, 107.65, 107.95, 108.2, 108.5, 108.8, 109.1, 109.35, 109.65, 109.95, 110.6, 110.9, 111.15, 111.45, 111.75, 112.0, 112.3, 112.55, 113.1, 113.4, 113.7, 113.95, 114.6, 114.9, 115.2, 115.5, 116.1, 116.4, 116.7
];

const braggImpurity: number[] = [43.6, 63.4, 80.07, 95.8, 112.2];

// Vertical offsets (counts) at which each row of reflection marks is plotted
const ROW_LEVELS = [0, -600, -1220, -1940];

const X_MIN = 0, X_MAX = 120, X_STEP = 4, X_LABEL_EVERY = 20;
const Y_MIN = -5000, Y_MAX = 15000, Y_STEP = 400, Y_LABEL_EVERY = 2000;

const pts = (a: [number, number][]) => a.map(([x, y]) => ({ x, y }));
const row = (a: number[], level: number) => a.map((x) => ({ x, y: level }));

const isMajorX = (v: number) => Math.abs(v % X_LABEL_EVERY) < 1e-6;
const isMajorY = (v: number) => Math.abs((v - Y_MIN) % Y_LABEL_EVERY) < 1e-6;

const framePlugin = {
  id: 'frameTicks',
  afterDatasetsDraw(chart: any) {
    const { ctx, chartArea: a, scales } = chart;
    const xs = scales.x, ys = scales.y;
    ctx.save();
    ctx.strokeStyle = '#000';
    const seg = (x1: number, y1: number, x2: number, y2: number, w: number) => {
      ctx.lineWidth = w;
      ctx.beginPath();
      ctx.moveTo(x1, y1);
      ctx.lineTo(x2, y2);
      ctx.stroke();
    };
    xs.ticks.forEach((t: any) => {
      const p = xs.getPixelForValue(t.value);
      const major = isMajorX(t.value);
      const len = major ? 15 : 11;
      const w = major ? 2.6 : 1.3;
      seg(p, a.bottom, p, a.bottom - len, w);
      seg(p, a.top, p, a.top + len, w);
    });
    ys.ticks.forEach((t: any) => {
      const p = ys.getPixelForValue(t.value);
      const major = isMajorY(t.value);
      const len = major ? 15 : 11;
      const w = major ? 2.6 : 1.3;
      seg(a.left, p, a.left + len, p, w);
      seg(a.right, p, a.right - len, p, w);
    });
    ctx.lineWidth = 3;
    ctx.strokeRect(a.left, a.top, a.right - a.left, a.bottom - a.top);
    ctx.restore();
  },
  afterDraw(chart: any) {
    const { ctx } = chart;
    ctx.save();
    ctx.fillStyle = '#000';
    ctx.textAlign = 'center';
    ctx.textBaseline = 'middle';
    ctx.font = `23px ${FONT}`;
    ctx.fillText(TITLE, 586, 22);
    ctx.font = `26px ${FONT}`;
    ctx.fillText(X_TITLE, 601, 650);
    ctx.font = `24px ${FONT}`;
    ctx.translate(30, 213);
    ctx.rotate(-Math.PI / 2);
    ctx.fillText(Y_TITLE, 0, 0);
    ctx.restore();
  },
};

export default function App() {
  const ref = useRef<HTMLCanvasElement | null>(null);
  useEffect(() => {
    if (!ref.current) return;
    const tickMark = (data: { x: number; y: number }[], w: number) => ({
      data,
      showLine: false,
      pointStyle: 'line',
      pointRotation: 90,
      pointRadius: 3.6,
      pointBorderWidth: w,
      pointBorderColor: '#000',
      borderColor: '#000',
    });
    const chart = new Chart(ref.current, {
      type: 'scatter',
      data: {
        datasets: [
          {
            label: 'Calc',
            data: pts(calculated),
            showLine: true,
            borderColor: '#000',
            borderWidth: 1,
            pointRadius: 0,
            tension: 0,
          },
          {
            label: 'Obs',
            data: pts(observed),
            showLine: false,
            pointStyle: 'circle',
            pointRadius: 2.7,
            pointBorderWidth: 1.1,
            pointBorderColor: '#111',
            pointBackgroundColor: 'rgba(255,255,255,0)',
          },
          {
            label: 'Obs-Calc',
            data: pts(difference),
            showLine: true,
            borderColor: '#000',
            borderWidth: 1,
            pointRadius: 0,
            tension: 0,
          },
          { label: 'Bragg 1', ...tickMark(row(braggNuclear, ROW_LEVELS[0]), 1) },
          { label: 'Bragg 2', ...tickMark(row(braggMagneticLow, ROW_LEVELS[1]), 1) },
          { label: 'Bragg 2b', ...tickMark(row(braggMagneticHigh, ROW_LEVELS[1]), 2.4) },
          { label: 'Bragg 3', ...tickMark(row(braggMagneticLow, ROW_LEVELS[2]), 1) },
          { label: 'Bragg 3b', ...tickMark(row(braggMagneticHigh, ROW_LEVELS[2]), 2.4) },
          { label: 'Bragg 4', ...tickMark(row(braggImpurity, ROW_LEVELS[3]), 1) },
        ] as any,
      },
      options: {
        animation: false,
        responsive: true,
        maintainAspectRatio: false,
        devicePixelRatio: 1,
        events: [],
        layout: { padding: { left: 0, right: 15, top: 66, bottom: 0 } },
        plugins: {
          legend: { display: false },
          tooltip: { enabled: false },
          title: { display: false },
        },
        scales: {
          x: {
            type: 'linear',
            min: X_MIN,
            max: X_MAX,
            grid: { display: false },
            border: { display: false },
            ticks: {
              stepSize: X_STEP,
              autoSkip: false,
              maxRotation: 0,
              padding: 8,
              color: '#000',
              font: { size: 19, family: FONT },
              callback: (v: any) => (isMajorX(Number(v)) ? String(v) : ''),
            },
            afterFit: (s: any) => {
              s.height = 103;
              s.paddingLeft = 0;
              s.paddingRight = 0;
            },
          },
          y: {
            type: 'linear',
            min: Y_MIN,
            max: Y_MAX,
            grid: { display: false },
            border: { display: false },
            ticks: {
              stepSize: Y_STEP,
              autoSkip: false,
              padding: 14,
              color: '#000',
              font: { size: 19, family: FONT },
              callback: (v: any) => (isMajorY(Number(v)) ? String(v) : ''),
            },
            afterFit: (s: any) => {
              s.width = 174;
              s.paddingTop = 0;
              s.paddingBottom = 0;
            },
          },
        },
      } as any,
      plugins: [framePlugin],
    });
    return () => chart.destroy();
  }, []);
  return (
    <div style={{ position: 'fixed', left: 0, top: 0, width: 997, height: 694, background: '#fff' }}>
      <canvas ref={ref} />
    </div>
  );
}
